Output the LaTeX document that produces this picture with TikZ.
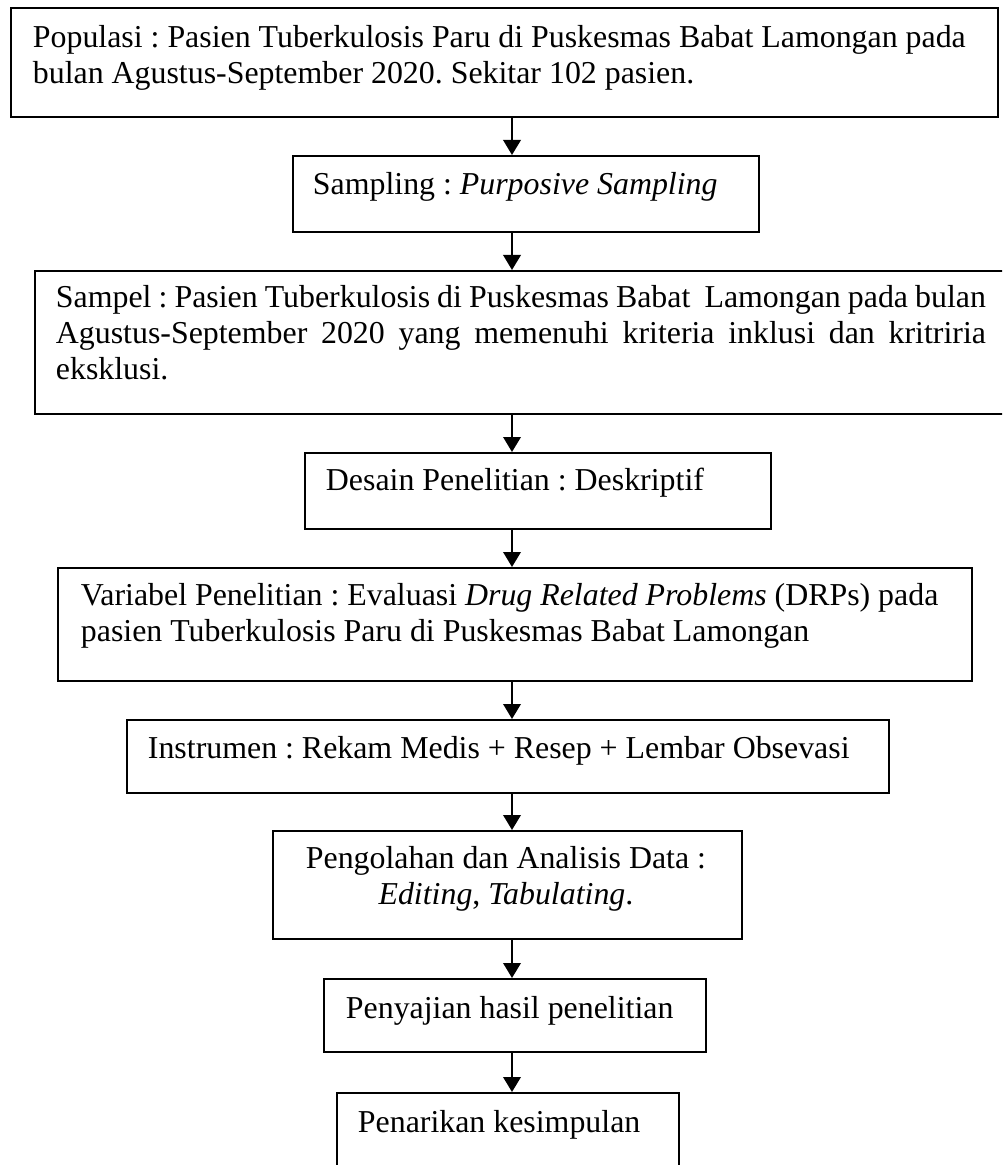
\documentclass[tikz,border=0pt]{standalone}
\usepackage{fontspec}
\setmainfont{Liberation Serif}
\usetikzlibrary{arrows.meta}
\newlength\upx
\setlength\upx{0.4pt}
% #1 box width, #2 box height, #3 left pad, #4 first baseline, #5 text width, #6 text (all px)
\newcommand\bxc[6]{\parbox[c][#2\upx][t]{#1\upx}{\hspace*{#3\upx}\parbox[t]{#5\upx}{\rule{0pt}{#4\upx}#6}}}
\frenchspacing
\begin{document}
\begin{tikzpicture}[x=0.4pt,y=-0.4pt,
  flowbox/.style={draw, line width=0.75pt, inner sep=0pt, anchor=north west,
    font=\fontsize{12.75}{14.4}\selectfont\frenchspacing},
  flowarrow/.style={line width=0.8pt, -{Triangle[length=6pt,width=7pt]}}]
\useasboundingbox (0,0) rectangle (1002,1165);
\clip (0,0) rectangle (1002,1165);
\coordinate (ax) at (512,0);

\node[flowbox] (b1) at (10,7) {\bxc{987}{109}{22}{40}{965}{\raggedright
  Populasi : Pasien Tuberkulosis Paru di Puskesmas Babat Lamongan pada\\
  bulan Agustus-September 2020. Sekitar 102 pasien.}};

\node[flowbox] (b2) at (292,155) {\bxc{466}{76}{20}{39}{440}{\raggedright
  Sampling : \textit{Purposive Sampling}}};

\node[flowbox] (b3) at (34,270) {\bxc{985}{143}{21}{37}{930}{%
  Sampel : Pasien Tuberkulosis di Puskesmas Babat~ Lamongan pada bulan\linebreak
  Agustus-September 2020 yang memenuhi kriteria inklusi dan kritriria\linebreak
  eksklusi.}};

\node[flowbox] (b4) at (304,452) {\bxc{466}{76}{21}{38}{440}{\raggedright
  Desain Penelitian : Deskriptif}};

\node[flowbox] (b5) at (57,567) {\bxc{914}{113}{23}{38}{885}{\raggedright
  Variabel Penelitian : Evaluasi \textit{Drug Related Problems} (DRPs) pada\\
  pasien Tuberkulosis Paru di Puskesmas Babat Lamongan}};

\node[flowbox] (b6) at (126,719) {\bxc{762}{73}{21}{39}{735}{\raggedright
  Instrumen : Rekam Medis + Resep + Lembar Obsevasi}};

\node[flowbox] (b7) at (272,830) {\bxc{469}{108}{10}{38}{446}{\centering
  Pengolahan dan Analisis Data :\\
  \textit{Editing}, \textit{Tabulating}.}};

\node[flowbox] (b8) at (323,978) {\bxc{382}{73}{22}{40}{355}{\raggedright
  Penyajian hasil penelitian}};

\node[flowbox] (b9) at (336,1092) {\bxc{342}{95}{21}{40}{318}{\raggedright
  Penarikan kesimpulan}};

\draw[flowarrow] (b1.south -| ax) -- (b2.north -| ax);
\draw[flowarrow] (b2.south -| ax) -- (b3.north -| ax);
\draw[flowarrow] (b3.south -| ax) -- (b4.north -| ax);
\draw[flowarrow] (b4.south -| ax) -- (b5.north -| ax);
\draw[flowarrow] (b5.south -| ax) -- (b6.north -| ax);
\draw[flowarrow] (b6.south -| ax) -- (b7.north -| ax);
\draw[flowarrow] (b7.south -| ax) -- (b8.north -| ax);
\draw[flowarrow] (b8.south -| ax) -- (b9.north -| ax);
\end{tikzpicture}
\end{document}
